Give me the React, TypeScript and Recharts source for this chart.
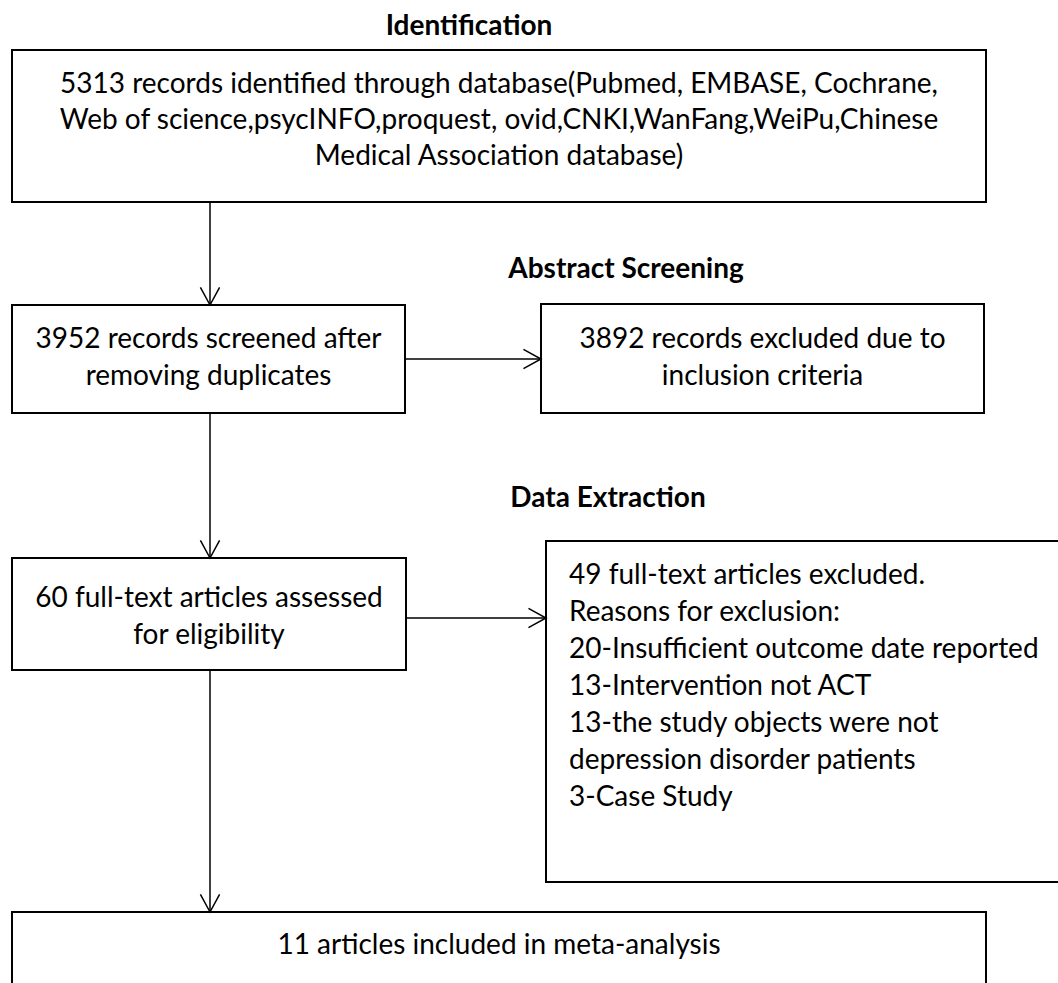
import { ComposedChart, XAxis, YAxis, ReferenceArea, ReferenceLine, ReferenceDot, Label } from "recharts";

const W = 1058;
const H = 983;
const FONT = "Lato, 'Open Sans', sans-serif";

// flow values
const stageTitles = ["Identification", "Abstract Screening", "Data Extraction"];
const recordCounts = [5313, 3952, 3892, 60, 49, 11];
const databases = ["Pubmed", "EMBASE", "Cochrane"];
const exclusionCounts = [20, 13, 13, 3];
const exclusionReasons = [
  "Insufficient outcome date reported",
  "Intervention not ACT",
  "the study objects were not",
  "Case Study",
];

const boxLines = [
  [
    `${recordCounts[0]} records identified through database(${databases.join(", ")},`,
    "Web of science,psycINFO,proquest, ovid,CNKI,WanFang,WeiPu,Chinese",
    "Medical Association database)",
  ],
  [`${recordCounts[1]} records screened after`, "removing duplicates"],
  [`${recordCounts[2]} records excluded due to`, "inclusion criteria"],
  [`${recordCounts[3]} full-text articles assessed`, "for eligibility"],
  [
    `${recordCounts[4]} full-text articles excluded.`,
    "Reasons for exclusion:",
    `${exclusionCounts[0]}-${exclusionReasons[0]}`,
    `${exclusionCounts[1]}-${exclusionReasons[1]}`,
    `${exclusionCounts[2]}-${exclusionReasons[2]}`,
    "depression disorder patients",
    `${exclusionCounts[3]}-${exclusionReasons[3]}`,
  ],
  [`${recordCounts[5]} articles included in meta-analysis`],
];

// layout (chart units = px)
const boxes = [
  { x1: 12, x2: 986, y1: 50, y2: 202, textY: 32, gap: 36, align: "center" },
  { x1: 12, x2: 405, y1: 305, y2: 413, textY: 32, gap: 37, align: "center" },
  { x1: 541, x2: 984, y1: 304, y2: 413, textY: 33, gap: 37, align: "center" },
  { x1: 12, x2: 406, y1: 558, y2: 670, textY: 38, gap: 37, align: "center" },
  { x1: 546, x2: 1070, y1: 541, y2: 882, textY: 32, gap: 37, align: "left" },
  { x1: 12, x2: 986, y1: 912, y2: 1000, textY: 31, gap: 37, align: "center" },
];
const titlePos = [
  { x: 469, y: 25 },
  { x: 626, y: 268 },
  { x: 608, y: 497 },
];
const arrows = [
  [{ x: 210, y: 202 }, { x: 210, y: 305 }],
  [{ x: 405, y: 359 }, { x: 541, y: 359 }],
  [{ x: 210, y: 413 }, { x: 210, y: 558 }],
  [{ x: 406, y: 618 }, { x: 546, y: 618 }],
  [{ x: 210, y: 670 }, { x: 210, y: 912 }],
];

function Arrow(p: any) {
  const { x1, y1, x2, y2 } = p;
  const a = Math.atan2(y2 - y1, x2 - x1);
  const len = 20;
  const spread = 0.5;
  const hx1 = x2 - len * Math.cos(a - spread);
  const hy1 = y2 - len * Math.sin(a - spread);
  const hx2 = x2 - len * Math.cos(a + spread);
  const hy2 = y2 - len * Math.sin(a + spread);
  return (
    <g>
      <line x1={x1} y1={y1} x2={x2} y2={y2} stroke="#000" strokeWidth={1.5} />
      <polyline points={`${hx1},${hy1} ${x2},${y2} ${hx2},${hy2}`} fill="none" stroke="#000" strokeWidth={1.5} />
    </g>
  );
}

function boxText(lines: string[], b: any) {
  return (p: any) => {
    const vb = p.viewBox;
    const left = b.align === "left";
    const tx = left ? vb.x + 23 : vb.x + vb.width / 2;
    return (
      <g>
        {lines.map((s, i) => (
          <text
            key={i}
            x={tx}
            y={vb.y + b.textY + i * b.gap}
            textAnchor={left ? "start" : "middle"}
            dominantBaseline="central"
            fontFamily={FONT}
            fontSize={28}
            fill="#000"
          >
            {s}
          </text>
        ))}
      </g>
    );
  };
}

export default function App() {
  return (
    <div style={{ position: "absolute", left: 0, top: 0, background: "#fff" }}>
      <ComposedChart width={W} height={H} data={[]} margin={{ top: 0, right: 0, bottom: 0, left: 0 }}>
        <XAxis type="number" dataKey="x" domain={[0, W]} hide allowDataOverflow />
        <YAxis type="number" dataKey="y" domain={[0, H]} reversed hide allowDataOverflow />
        {arrows.map((seg, i) => (
          <ReferenceLine key={`a${i}`} segment={seg} ifOverflow="visible" shape={Arrow} />
        ))}
        {boxes.map((b, i) => (
          <ReferenceArea
            key={`b${i}`}
            x1={b.x1}
            x2={b.x2}
            y1={b.y1}
            y2={b.y2}
            ifOverflow="visible"
            fill="#fff"
            fillOpacity={1}
            stroke="#000"
            strokeWidth={2}
          >
            <Label content={boxText(boxLines[i], b)} />
          </ReferenceArea>
        ))}
        {stageTitles.map((t, i) => (
          <ReferenceDot key={`t${i}`} x={titlePos[i].x} y={titlePos[i].y} r={0} stroke="none" fill="none" ifOverflow="visible">
            <Label value={t} position="center" fontFamily={FONT} fontSize={28} fontWeight="bold" fill="#000" />
          </ReferenceDot>
        ))}
      </ComposedChart>
    </div>
  );
}
